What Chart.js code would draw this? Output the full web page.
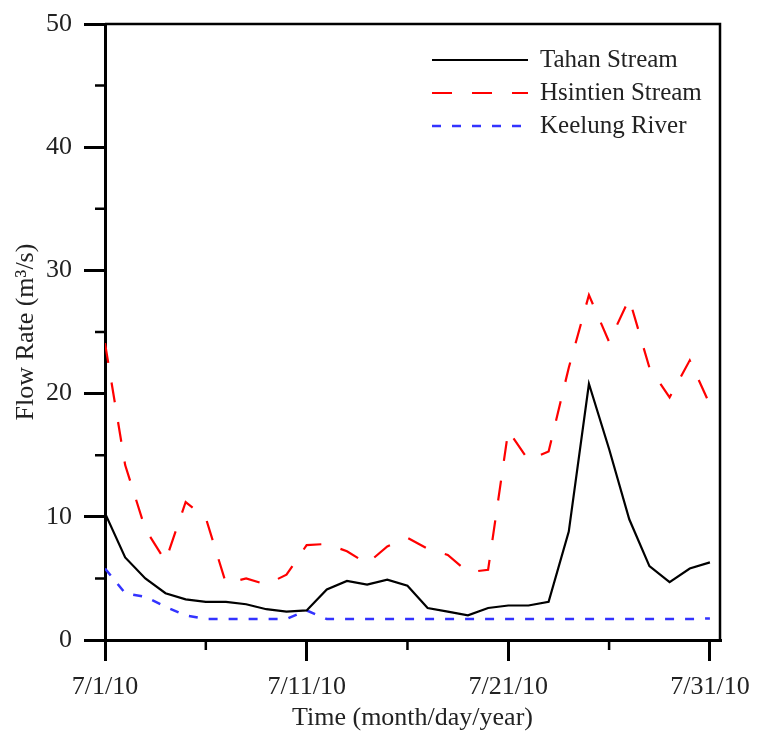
<!DOCTYPE html>
<html>
<head>
<meta charset="utf-8">
<script src="https://cdn.jsdelivr.net/npm/chart.js@4"></script>
<style>
  html, body { margin: 0; padding: 0; background: #fff; }
  #wrap { width: 757px; height: 738px; }
</style>
</head>
<body>
<div id="wrap"><canvas id="myChart"></canvas></div>
<script>
// days since 7/1/10
var days = [0, 1, 2, 3, 4, 5, 6, 7, 8, 9, 10, 11, 12, 13, 14, 15, 16, 17, 18, 19, 20, 21, 22, 23, 24, 25, 26, 27, 28, 29, 30];
var tickLabels = ["7/1/10", "7/11/10", "7/21/10", "7/31/10"];
var seriesNames = ["Tahan Stream", "Hsintien Stream", "Keelung River"];

var tahan = [10.3, 6.7, 5.0, 3.8, 3.3, 3.1, 3.1, 2.9, 2.5, 2.3, 2.4, 4.1, 4.8, 4.5, 4.9, 4.4,
             2.6, 2.3, 2.0, 2.6, 2.8, 2.8, 3.1, 8.8, 20.8, 15.5, 9.8, 6.0, 4.7, 5.8, 6.3];
var hsintien = [24.1, 14.2, 9.0, 6.4, 11.2, 9.9, 4.6, 5.0, 4.5, 5.3, 7.7, 7.8, 7.2, 6.2, 7.6, 8.3,
                7.4, 6.9, 5.5, 5.7, 17.0, 14.6, 15.3, 22.1, 28.0, 24.2, 27.7, 22.1, 19.7, 22.7, 19.1];
var keelung = [5.8, 3.8, 3.5, 2.7, 2.0, 1.7, 1.7, 1.7, 1.7, 1.7, 2.4, 1.7, 1.7, 1.7, 1.7, 1.7,
               1.7, 1.7, 1.7, 1.7, 1.7, 1.7, 1.7, 1.7, 1.7, 1.7, 1.7, 1.7, 1.7, 1.7, 1.75];

var serif = "'Liberation Serif', 'Times New Roman', serif";

function pts(vals) {
    return days.map(function(d, i) { return { x: d, y: vals[i] }; });
}

// minor ticks, frame box and the legend inside the plot
var extras = {
    id: 'extras',
    afterDraw: function(chart) {
        var ctx = chart.ctx;
        var a = chart.chartArea;
        var xs = chart.scales.x, ys = chart.scales.y;
        ctx.save();
        ctx.strokeStyle = '#000';
        ctx.lineWidth = 2.5;
        ctx.beginPath();
        [5, 15, 25].forEach(function(v) {
            var px = xs.getPixelForValue(v);
            ctx.moveTo(px, a.bottom);
            ctx.lineTo(px, a.bottom + 10);
        });
        [5, 15, 25, 35, 45].forEach(function(v) {
            var py = ys.getPixelForValue(v);
            ctx.moveTo(a.left, py);
            ctx.lineTo(a.left - 10, py);
        });
        ctx.stroke();

        ctx.lineWidth = 2.5;
        ctx.beginPath();
        ctx.moveTo(a.left, a.top);
        ctx.lineTo(a.right, a.top);
        ctx.lineTo(a.right, a.bottom);
        ctx.stroke();

        ctx.font = "25px " + serif;
        ctx.textBaseline = 'middle';
        ctx.fillStyle = '#222';
        chart.data.datasets.forEach(function(ds, i) {
            var y = a.top + 36 + i * 33;
            var x0 = a.right - 288;
            ctx.strokeStyle = ds.borderColor;
            ctx.lineWidth = ds.borderWidth;
            ctx.setLineDash(ds.borderDash || []);
            ctx.beginPath();
            ctx.moveTo(x0, y);
            ctx.lineTo(x0 + 96, y);
            ctx.stroke();
            ctx.setLineDash([]);
            ctx.fillText(ds.label, x0 + 108, y);
        });
        ctx.restore();
    }
};

var ctx = document.getElementById('myChart');
var chart = new Chart(ctx, {
    type: 'line',
    data: {
        datasets: [
            {
                label: seriesNames[0],
                data: pts(tahan),
                borderColor: '#000000',
                borderWidth: 2.2,
                pointRadius: 0,
                tension: 0,
                fill: false
            },
            {
                label: seriesNames[1],
                data: pts(hsintien),
                borderColor: '#ff0000',
                borderWidth: 2.2,
                borderDash: [20, 20],
                pointRadius: 0,
                tension: 0,
                fill: false
            },
            {
                label: seriesNames[2],
                data: pts(keelung),
                borderColor: '#3333ff',
                borderWidth: 2.5,
                borderDash: [9, 11],
                pointRadius: 0,
                tension: 0,
                fill: false
            }
        ]
    },
    options: {
        responsive: true,
        maintainAspectRatio: false,
        animation: false,
        layout: { padding: { top: 24, right: 37, left: 0, bottom: 0 } },
        plugins: {
            legend: { display: false },
            tooltip: { enabled: false }
        },
        scales: {
            x: {
                type: 'linear',
                min: 0,
                max: 30.5,
                afterFit: function(s) { s.height = 98; s.paddingLeft = 0; s.paddingRight = 0; },
                border: { display: true, color: '#000', width: 3 },
                grid: { drawOnChartArea: false, color: '#000', tickLength: 21, tickWidth: 3, lineWidth: 3 },
                ticks: {
                    stepSize: 10,
                    includeBounds: false,
                    maxRotation: 0,
                    padding: 11,
                    color: '#222',
                    font: { family: serif, size: 26 },
                    callback: function(v) { return tickLabels[v / 10]; }
                },
                title: {
                    display: true,
                    text: 'Time (month/day/year)',
                    color: '#222',
                    font: { family: serif, size: 26 },
                    padding: { top: 0, bottom: 4 }
                }
            },
            y: {
                min: 0,
                max: 50,
                afterFit: function(s) { s.width = 105; s.paddingTop = 0; s.paddingBottom = 0; },
                border: { display: true, color: '#000', width: 3 },
                grid: { drawOnChartArea: false, color: '#000', tickLength: 21, tickWidth: 3, lineWidth: 3 },
                ticks: {
                    stepSize: 10,
                    padding: 12,
                    color: '#222',
                    font: { family: serif, size: 26 }
                },
                title: {
                    display: true,
                    text: 'Flow Rate (m³/s)',
                    color: '#222',
                    font: { family: serif, size: 26 },
                    padding: { top: 11, bottom: 0 }
                }
            }
        }
    },
    plugins: [extras]
});
</script>
</body>
</html>
